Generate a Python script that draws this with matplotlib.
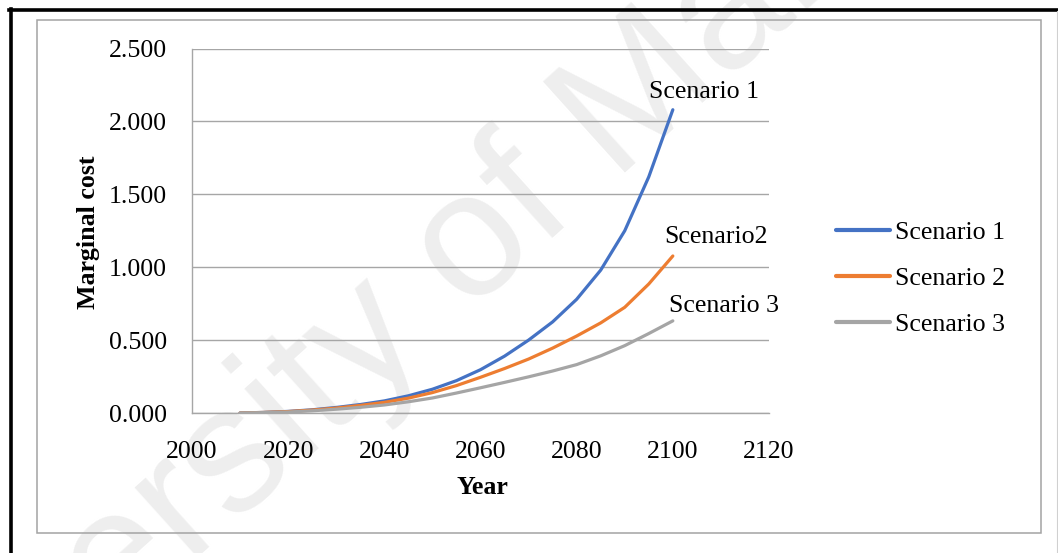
import matplotlib
matplotlib.use("Agg")
import matplotlib.pyplot as plt
from matplotlib.patches import Rectangle
from matplotlib.lines import Line2D
from matplotlib.ticker import FormatStrFormatter

# Marginal cost by year for the three scenarios
years = [2010, 2015, 2020, 2025, 2030, 2035, 2040, 2045, 2050, 2055,
         2060, 2065, 2070, 2075, 2080, 2085, 2090, 2095, 2100]
scenario_1 = [0.000, 0.004, 0.011, 0.022, 0.038, 0.058, 0.083, 0.118, 0.163, 0.222,
              0.297, 0.390, 0.500, 0.625, 0.780, 0.980, 1.250, 1.620, 2.080]
scenario_2 = [0.000, 0.004, 0.010, 0.020, 0.034, 0.052, 0.073, 0.102, 0.140, 0.188,
              0.245, 0.305, 0.370, 0.445, 0.528, 0.618, 0.725, 0.885, 1.077]
scenario_3 = [0.000, 0.003, 0.007, 0.015, 0.026, 0.039, 0.055, 0.077, 0.103, 0.137,
              0.173, 0.210, 0.248, 0.288, 0.332, 0.392, 0.462, 0.545, 0.632]

series_names = ["Scenario 1", "Scenario 2", "Scenario 3"]
end_labels = ["Scenario 1", "Scenario2", "Scenario 3"]
colors = ["#4472C4", "#ED7D31", "#A5A5A5"]

x_ticks = [2000, 2020, 2040, 2060, 2080, 2100, 2120]
y_ticks = [0.0, 0.5, 1.0, 1.5, 2.0, 2.5]

W, H = 1058, 553
fig = plt.figure(figsize=(W / 100, H / 100), dpi=100)
fig.patch.set_facecolor("white")

serif = ["Liberation Serif", "DejaVu Serif"]
fs = 18.6

# faint diagonal watermark behind everything
fig.text(415 / W, 1 - 300 / H, "University of Malaya", rotation=42,
         rotation_mode="anchor", ha="center", va="center",
         fontsize=128, color="#eeeeee", family=["Liberation Sans", "DejaVu Sans"],
         zorder=-10)

# page frame: heavy black top/left edges and grey chart-area border
fig.add_artist(Line2D([9 / W, 1.0], [1 - 10.2 / H] * 2, color="black",
                      lw=2.6, transform=fig.transFigure, zorder=1))
fig.add_artist(Line2D([10.6 / W] * 2, [0.0, 1 - 9 / H], color="black",
                      lw=2.6, transform=fig.transFigure, zorder=1))
fig.add_artist(Line2D([1057 / W] * 2, [0.0, 1 - 11 / H], color="#d0d0d0",
                      lw=0.8, transform=fig.transFigure, zorder=1))
fig.add_artist(Rectangle((36.7 / W, 1 - 532.7 / H),
                         (1041.3 - 36.7) / W, (532.7 - 19.5) / H,
                         fill=False, edgecolor="#a3a3a3", lw=1.1,
                         transform=fig.transFigure, zorder=1))

left, right, top, bottom = 192, 769, 48.5, 413
ax = fig.add_axes([left / W, 1 - bottom / H, (right - left) / W, (bottom - top) / H])
ax.set_facecolor("none")
ax.set_zorder(2)

for vals, name, c in zip([scenario_1, scenario_2, scenario_3], series_names, colors):
    ax.plot(years, vals, color=c, lw=2.3, label=name,
            solid_capstyle="round", solid_joinstyle="round", zorder=3)

# data labels at the end of each series
label_pos = [(2106.5, 2.205), (2109.0, 1.209), (2110.6, 0.735)]
for (lx, ly), txt in zip(label_pos, end_labels):
    ax.text(lx, ly, txt, ha="center", va="center", fontsize=fs,
            family=serif, clip_on=False, zorder=4)

ax.set_xlim(2000, 2120)
ax.set_ylim(0, 2.5)
ax.set_xticks(x_ticks)
ax.set_yticks(y_ticks)
ax.yaxis.set_major_formatter(FormatStrFormatter("%.3f"))
ax.grid(axis="y", color="#a6a6a6", lw=1.0, zorder=1)
ax.set_axisbelow(True)
for s in ["top", "right"]:
    ax.spines[s].set_visible(False)
for s in ["left", "bottom"]:
    ax.spines[s].set_color("#a6a6a6")
    ax.spines[s].set_linewidth(1.0)
ax.tick_params(axis="both", length=0, labelsize=fs)
ax.tick_params(axis="y", pad=18)
ax.tick_params(axis="x", pad=20)
for lab in ax.get_xticklabels() + ax.get_yticklabels():
    lab.set_family(serif)

ax.set_xlabel("Year", fontsize=fs, fontweight="bold", family=serif, va="center")
ax.xaxis.set_label_coords((482 - left) / (right - left), -(487 - bottom) / (bottom - top))
ax.set_ylabel("Marginal cost", fontsize=fs, fontweight="bold", family=serif, va="center")
ax.yaxis.set_label_coords(-(left - 88) / (right - left), (bottom - 232.5) / (bottom - top))

leg = fig.legend(loc="center left", bbox_to_anchor=(836 / W, 1 - 278.5 / H),
                 frameon=False, prop={"family": serif, "size": fs},
                 handlelength=2.1, handletextpad=0.2, labelspacing=0.88,
                 borderpad=0, borderaxespad=0)
for h in leg.get_lines():
    h.set_linewidth(3.0)

fig.savefig("out.png", dpi=100, facecolor="white")
